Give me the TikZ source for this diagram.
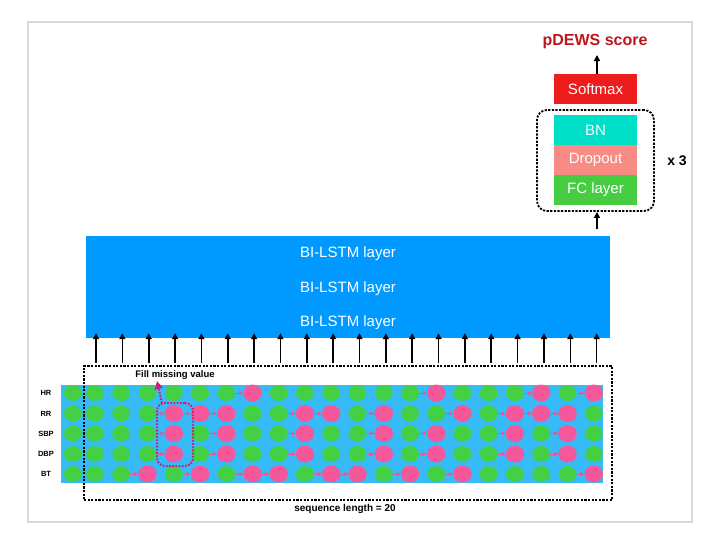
\documentclass[tikz,border=0pt]{standalone}
\usepackage{fontspec}
\setmainfont{Liberation Sans}
\usetikzlibrary{arrows.meta,shapes.geometric,calc}
\definecolor{gridblue}{HTML}{36BBF7}
\definecolor{lstmblue}{HTML}{0099FF}
\definecolor{dotgreen}{HTML}{44D044}
\definecolor{dotpink}{HTML}{F5589A}
\definecolor{arrpink}{HTML}{E9559A}
\definecolor{fillmag}{HTML}{CC2277}
\definecolor{smred}{HTML}{EE1D1D}
\definecolor{bnteal}{HTML}{00DFC8}
\definecolor{dropsalmon}{HTML}{F98B85}
\definecolor{fcgreen}{HTML}{46CD42}
\definecolor{scorered}{HTML}{BE161C}
\definecolor{framegray}{HTML}{D8D8D8}
\tikzset{
  gdot/.style={ellipse, fill=dotgreen, minimum width=18pt, minimum height=16pt, inner sep=0pt},
  pdot/.style={ellipse, fill=dotpink, minimum width=18.5pt, minimum height=17pt, inner sep=0pt},
  pinkarrow/.style={arrpink, line width=1pt, -{Triangle[length=4pt,width=4pt]}},
  uparrow/.style={black, line width=1.6pt, -{Triangle[length=6pt,width=6pt]}},
  headbox/.style={rectangle, minimum width=83pt, minimum height=30pt, inner sep=0pt, text=white, font=\fontsize{15}{17}\selectfont},
  lstmlabel/.style={inner sep=0pt, text=white, font=\fontsize{15}{17}\selectfont},
  rowlabel/.style={inner sep=0pt, font=\fontsize{7.5}{8}\selectfont\bfseries},
  blackdash/.style={draw=black, line width=1.8pt, dash pattern=on 2.2pt off 1.4pt},
}
\begin{document}
\begin{tikzpicture}[x=1pt,y=-1pt]
\useasboundingbox (0,0) rectangle (718,536);
% outer frame
\node[draw=framegray, line width=2.5pt, minimum width=664pt, minimum height=500pt, inner sep=0pt] (frame) at (360,272) {};

% top-right head
\node[font=\fontsize{16}{18}\selectfont\bfseries, text=scorered, inner sep=0pt] (score) at (595,42) {pDEWS score};
\node[headbox, fill=smred] (smax) at (595.5,89) {Softmax};
\node[headbox, fill=bnteal] (bn) at (595.5,130) {BN};
\node[headbox, fill=dropsalmon] (drop) at (595.5,160) {Dropout};
\node[headbox, fill=fcgreen] (fc) at (595.5,190) {FC layer};
\node[blackdash, rounded corners=10pt, minimum width=117pt, minimum height=101pt, inner sep=0pt] (rep) at (595.5,160.5) {};
\node[font=\fontsize{14}{16}\selectfont\bfseries, inner sep=0pt] (times) at (677,161) {x 3};
\coordinate (scoretip) at (597,55);
\draw[uparrow] (scoretip |- smax.north) -- (scoretip);

% LSTM block
\node[fill=lstmblue, minimum width=524pt, minimum height=102pt, inner sep=0pt] (lstm) at (348,287) {};
\node[lstmlabel] (l1) at (348,254) {BI-LSTM layer};
\node[lstmlabel] (l2) at (348,289) {BI-LSTM layer};
\node[lstmlabel] (l3) at (348,323) {BI-LSTM layer};
\coordinate (fcbase) at (597,229);
\draw[uparrow] (fcbase) -- (fcbase |- rep.south);

% input grid
\node[fill=gridblue, minimum width=542pt, minimum height=98pt, inner sep=0pt] (gridbg) at (332,434) {};
\foreach \r/\yy/\lab/\pat in {
  0/393/HR/{0,0,0,0,0,0,0,1,0,0,0,0,0,0,1,0,0,0,1,0,1},
  1/413.5/RR/{0,0,0,0,1,1,1,0,0,1,1,0,1,0,0,1,0,1,1,1,0},
  2/433.5/SBP/{0,0,0,0,1,0,1,0,0,1,0,0,1,0,1,0,0,1,0,1,0},
  3/454/DBP/{0,0,0,0,1,0,1,0,0,1,0,0,1,0,1,0,0,1,0,1,0},
  4/474/BT/{0,0,0,1,0,1,0,1,1,0,1,1,0,1,0,1,0,0,0,0,1}} {
  \node[rowlabel] (lab-\r) at (46,\yy) {\lab};
  \foreach \v [count=\c from 0] in \pat {
    \pgfmathsetmacro\xx{\c==0 ? 73 : 95+26.25*(\c-1)}
    \ifnum\v=1
      \node[pdot] (d-\r-\c) at (\xx,\yy) {};
      \pgfmathtruncatemacro\pc{\c-1}
      \draw[pinkarrow] (d-\r-\pc) -- (d-\r-\c);
    \else
      \node[gdot] (d-\r-\c) at (\xx,\yy) {};
    \fi
  }
}

% sequence box
\node[blackdash, minimum width=528pt, minimum height=134pt, inner sep=0pt] (seqbox) at (348,433) {};
\node[font=\fontsize{10}{11}\selectfont\bfseries, inner sep=0pt] (seqlab) at (345,509) {sequence length = 20};
\foreach \i in {0,...,19} {
  \coordinate (b\i) at ({96+26.35*\i},363);
  \draw[uparrow] (b\i) -- ([yshift=5pt]b\i |- lstm.south);
}

% fill missing value
\node[draw=fillmag, line width=2pt, dash pattern=on 1.8pt off 1.4pt, rounded corners=8pt, minimum width=36pt, minimum height=63pt, inner sep=0pt] (fillbox) at (175,434.5) {};
\coordinate (fillstart) at (162,403);
\coordinate (filltip) at (157,381);
\draw[fillmag, line width=2pt, dash pattern=on 1.8pt off 1.4pt, -{Triangle[length=8pt,width=8pt]}] (fillstart) -- (filltip);
\node[font=\fontsize{9.5}{10}\selectfont\bfseries, inner sep=0pt] (filllab) at (175,375) {Fill missing value};
\end{tikzpicture}
\end{document}
